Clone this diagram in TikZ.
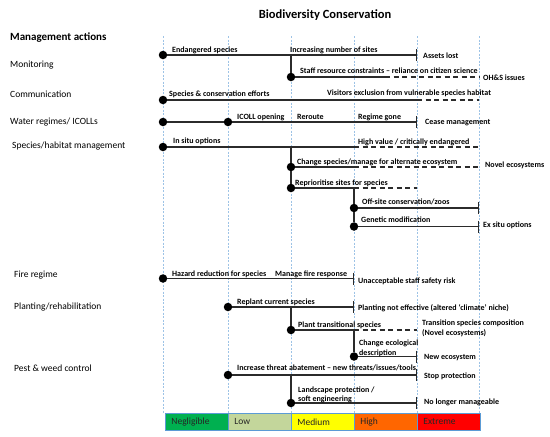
\documentclass[tikz,border=0pt]{standalone}
\usepackage{fontspec}
\setmainfont{Carlito}
\usetikzlibrary{arrows.meta}
\definecolor{linec}{HTML}{2B2B2B}
\definecolor{gridc}{HTML}{9DC3E6}
\definecolor{cellb}{HTML}{5B9BD5}
\definecolor{cneg}{HTML}{00B050}
\definecolor{clow}{HTML}{C3D69B}
\definecolor{cmed}{HTML}{FFFF00}
\definecolor{chigh}{HTML}{FF6600}
\definecolor{cext}{HTML}{FF0000}
\begin{document}
\begin{tikzpicture}[x=1pt,y=-1pt,
 dot/.style={circle,fill=black,inner sep=0pt,minimum size=8.5pt},
 lbl/.style={font=\bfseries\fontsize{8}{9.4}\selectfont,anchor=base west,inner sep=0pt,align=left},
 endl/.style={font=\bfseries\fontsize{8}{10}\selectfont,anchor=west,inner sep=0pt,align=left},
 cat/.style={font=\fontsize{9.5}{11}\selectfont,anchor=west,inner sep=0pt},
 ln/.style={line width=1.1pt,draw=linec},
 dl/.style={ln,dash pattern=on 5pt off 3.5pt},
 tk/.style={-{Bar[width=12pt,line width=1.4pt]}},
 gridl/.style={draw=gridc,line width=0.7pt,dash pattern=on 2pt off 1.5pt},
 cell/.style={draw=cellb,line width=0.8pt,minimum width=63pt,minimum height=17pt,text width=51pt,inner xsep=6pt,align=left,anchor=north west,font=\fontsize{9.5}{10}\selectfont,text=black!85}
]
\useasboundingbox (0,0) rectangle (550,437);
% grid lines
\foreach \gx in {163,228,291,354,417,479}{
  \draw[gridl] (\gx,36) -- (\gx,413);
}
% title and categories
\node[font=\bfseries\fontsize{12.5}{14}\selectfont] (title) at (325,15) {Biodiversity Conservation};
\node[cat,font=\bfseries\fontsize{11}{13}\selectfont] (cma) at (10,37.5) {Management actions};
\node[cat] (cmo) at (10,65.5) {Monitoring};
\node[cat] (cco) at (10,94) {Communication};
\node[cat] (cwa) at (10,122) {Water regimes/ ICOLLs};
\node[cat] (csp) at (12,146) {Species/habitat management};
\node[cat] (cfi) at (14,275) {Fire regime};
\node[cat] (cpl) at (14,307) {Planting/rehabilitation};
\node[cat] (cpe) at (14,368) {Pest \& weed control};

% Monitoring
\node[dot] (mo1) at (163,55) {};
\coordinate (mo1b) at (291,55);
\coordinate (mo1e) at (417,55);
\draw[ln,tk] (mo1) -- (mo1e);
\node[lbl] (t1) at (172,52) {Endangered species};
\node[lbl] (t2) at (290,52) {Increasing number of sites};
\node[endl] (t3) at (423,56) {Assets lost};
\node[dot] (mo2) at (291,77) {};
\draw[ln] (mo1b) -- (mo2);
\coordinate (mo2s) at (385,77);
\coordinate (mo2e) at (479,77);
\draw[ln] (mo2) -- (mo2s);
\draw[dl] (mo2s) -- (mo2e);
\node[lbl] (t4) at (300,73.5) {Staff resource constraints – reliance on citizen science};
\node[endl] (t5) at (483,78) {OH\&S issues};

% Communication
\node[dot] (co1) at (163,100) {};
\coordinate (co1s) at (417,100);
\coordinate (co1e) at (479,100);
\draw[ln] (co1) -- (co1s);
\draw[dl] (co1s) -- (co1e);
\node[lbl] (t6) at (169,96) {Species \& conservation efforts};
\node[lbl] (t7) at (327,95.5) {Visitors exclusion from vulnerable species habitat};

% Water regimes
\node[dot] (wa1) at (163,122) {};
\node[dot] (wa2) at (228,122) {};
\coordinate (wa2e) at (417,122);
\draw[ln] (wa1) -- (wa2);
\draw[ln,tk] (wa2) -- (wa2e);
\node[lbl] (t8) at (237,119.5) {ICOLL opening};
\node[lbl] (t9) at (297,119.5) {Reroute};
\node[lbl] (t10) at (358,119.5) {Regime gone};
\node[endl] (t11) at (425,122.5) {Cease management};

% Species / habitat
\node[dot] (sp1) at (163,147) {};
\coordinate (sp1b) at (291,147);
\coordinate (sp1s) at (354,147);
\coordinate (sp1e) at (479,147);
\draw[ln] (sp1) -- (sp1s);
\draw[dl] (sp1s) -- (sp1e);
\node[lbl] (t12) at (173,143) {In situ options};
\node[lbl] (t13) at (358,144.5) {High value / critically endangered};
\node[dot] (sp2) at (291,167) {};
\node[dot] (sp3) at (291,188) {};
\draw[ln] (sp1b) -- (sp2);
\draw[ln] (sp2) -- (sp3);
\coordinate (sp2s) at (354,167);
\coordinate (sp2e) at (479,167);
\draw[ln] (sp2) -- (sp2s);
\draw[dl] (sp2s) -- (sp2e);
\node[lbl] (t14) at (297,164) {Change species/manage for alternate ecosystem};
\node[endl] (t15) at (485,165.5) {Novel ecosystems};
\coordinate (sp3b) at (354,188);
\coordinate (sp3e) at (417,188);
\draw[ln] (sp3) -- (sp3b);
\draw[dl] (sp3b) -- (sp3e);
\node[lbl] (t16) at (295,185) {Reprioritise sites for species};
\node[dot] (sp4) at (354,208) {};
\node[dot] (sp5) at (354,226.5) {};
\draw[ln] (sp3b) -- (sp4);
\draw[ln] (sp4) -- (sp5);
\coordinate (sp4e) at (479,208);
\coordinate (sp5e) at (479,226.5);
\draw[ln,tk] (sp4) -- (sp4e);
\draw[ln,tk] (sp5) -- (sp5e);
\node[lbl] (t17) at (362,204.5) {Off-site conservation/zoos};
\node[lbl] (t18) at (361,222.5) {Genetic modification};
\node[endl] (t19) at (483,225) {Ex situ options};

% Fire regime
\node[dot] (fi1) at (163,278.5) {};
\coordinate (fi1e) at (354,278.5);
\draw[ln,tk] (fi1) -- (fi1e);
\node[lbl] (t20) at (172,276) {Hazard reduction for species};
\node[lbl] (t21) at (275,276) {Manage fire response};
\node[endl] (t22) at (358,281) {Unacceptable staff safety risk};

% Planting
\node[dot] (pl1) at (228,307) {};
\coordinate (pl1b) at (291,307);
\coordinate (pl1e) at (354,307);
\draw[ln,tk] (pl1) -- (pl1e);
\node[lbl] (t23) at (237,304) {Replant current species};
\node[endl] (t24) at (358,308) {Planting not effective (altered ‘climate’ niche)};
\node[dot] (pl2) at (291,330) {};
\draw[ln] (pl1b) -- (pl2);
\coordinate (pl2s) at (354,330);
\coordinate (pl2e) at (417,330);
\draw[ln] (pl2) -- (pl2s);
\draw[dl] (pl2s) -- (pl2e);
\node[lbl] (t25) at (298,327) {Plant transitional species};
\node[endl] (t26) at (422,328.5) {Transition species composition\\(Novel ecosystems)};
\node[dot] (pl3) at (354,356.5) {};
\draw[ln] (pl2s) -- (pl3);
\coordinate (pl3e) at (417,356.5);
\draw[ln,tk] (pl3) -- (pl3e);
\node[lbl] (t27) at (359,355) {Change ecological\\description};
\node[endl] (t28) at (424,358) {New ecosystem};

% Pest & weed
\node[dot] (pe1) at (228,375) {};
\coordinate (pe1b) at (291,375);
\coordinate (pe1e) at (417,375);
\draw[ln,tk] (pe1) -- (pe1e);
\node[lbl] (t29) at (237,370.5) {Increase threat abatement – new threats/issues/tools};
\node[endl] (t30) at (424,376) {Stop protection};
\node[dot] (pe2) at (291,403) {};
\draw[ln] (pe1b) -- (pe2);
\coordinate (pe2e) at (417,403);
\draw[ln,tk] (pe2) -- (pe2e);
\node[lbl] (t31) at (298,401.5) {Landscape protection /\\soft engineering};
\node[endl] (t32) at (424,402) {No longer manageable};

% risk bar
\node[cell,fill=cneg] (b1) at (165,413) {Negligible};
\node[cell,fill=clow] (b2) at (228,413) {Low};
\node[cell,fill=cmed] (b3) at (291,413) {Medium};
\node[cell,fill=chigh] (b4) at (354,413) {High};
\node[cell,fill=cext] (b5) at (417,413) {Extreme};
\end{tikzpicture}
\end{document}
